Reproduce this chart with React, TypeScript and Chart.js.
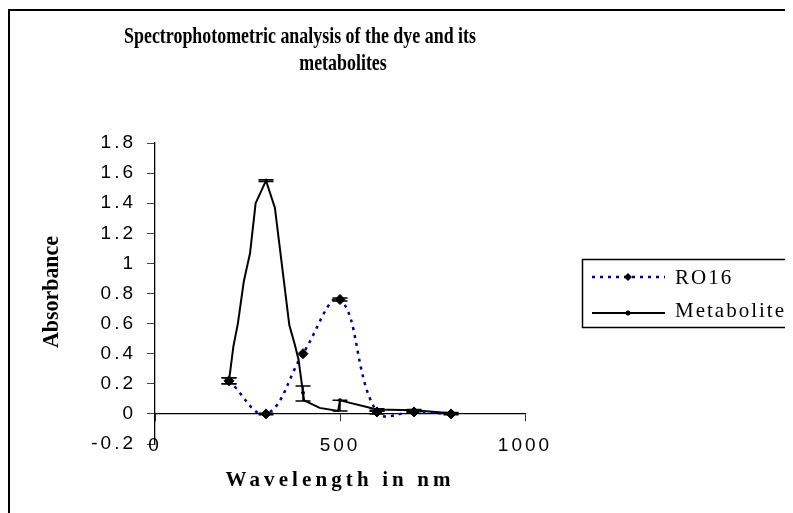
import { useEffect, useRef } from "react";
import { Chart, registerables } from "chart.js";

Chart.register(...registerables);

// ---------- data ----------
const chartTitle = ["Spectrophotometric analysis of the dye and its", "metabolites"];
const xAxisTitle = "Wavelength in nm";
const yAxisTitle = "Absorbance";

const xTickValues = [0, 500, 1000];
const yTickValues = [-0.2, 0, 0.2, 0.4, 0.6, 0.8, 1, 1.2, 1.4, 1.6, 1.8];

const ro16Label = "RO16";
const ro16X = [200, 300, 400, 500, 600, 700, 800];
const ro16Y = [0.22, 0.0, 0.4, 0.76, 0.013, 0.013, 0.0];
const ro16ErrX = [200, 300, 500, 600, 700, 800];
const ro16ErrLo = [0.2, -0.005, 0.75, 0.0, 0.005, -0.005];
const ro16ErrHi = [0.24, 0.005, 0.77, 0.02, 0.02, 0.005];

const metLabel = "Metabolite";
const metX = [200, 212, 224, 240, 257, 272, 300, 324, 363, 378, 388, 400, 403, 445, 495, 500, 600, 700, 800];
const metY = [0.22, 0.45, 0.6, 0.88, 1.07, 1.4, 1.55, 1.37, 0.59, 0.46, 0.36, 0.14, 0.09, 0.04, 0.02, 0.09, 0.03, 0.025, 0.005];
const metMarkerX = [200, 300, 400, 500, 600, 700, 800];
const metErrX = [200, 300, 400, 500, 600, 700, 800];
const metErrLo = [0.2, 1.545, 0.086, 0.02, 0.02, 0.02, 0.0];
const metErrHi = [0.24, 1.555, 0.186, 0.09, 0.035, 0.03, 0.01];

const W = 785;
const H = 505;

export default function App() {
  const ref = useRef<HTMLCanvasElement | null>(null);

  useEffect(() => {
    document.documentElement.style.overflow = "hidden";
    document.body.style.overflow = "hidden";
    const canvas = ref.current;
    if (!canvas) return;

    const errorSets = [
      { xs: ro16ErrX, lo: ro16ErrLo, hi: ro16ErrHi },
      { xs: metErrX, lo: metErrLo, hi: metErrHi },
    ];

    const decor = {
      id: "decor",
      beforeDraw(chart: any) {
        chart.ctx.letterSpacing = "3px";
      },
      afterDatasetsDraw(chart: any) {
        const ctx = chart.ctx as CanvasRenderingContext2D;
        const xs = chart.scales.x;
        const ys = chart.scales.y;
        ctx.save();
        ctx.strokeStyle = "#000";
        ctx.lineWidth = 1.5;
        ctx.setLineDash([]);
        const cap = 7.5;
        for (const s of errorSets) {
          for (let i = 0; i < s.xs.length; i++) {
            const px = xs.getPixelForValue(s.xs[i]);
            const pl = ys.getPixelForValue(s.lo[i]);
            const ph = ys.getPixelForValue(s.hi[i]);
            ctx.beginPath();
            ctx.moveTo(px, pl);
            ctx.lineTo(px, ph);
            ctx.moveTo(px - cap, pl);
            ctx.lineTo(px + cap, pl);
            ctx.moveTo(px - cap, ph);
            ctx.lineTo(px + cap, ph);
            ctx.stroke();
          }
        }
        ctx.restore();
      },
      afterDraw(chart: any) {
        const ctx = chart.ctx as CanvasRenderingContext2D;
        ctx.save();
        (ctx as any).letterSpacing = "0px";
        ctx.fillStyle = "#000";

        // outer border (left + top visible)
        ctx.strokeStyle = "#000";
        ctx.lineWidth = 2;
        ctx.beginPath();
        ctx.moveTo(1, H + 5);
        ctx.lineTo(1, 2);
        ctx.lineTo(W + 5, 2);
        ctx.stroke();

        // chart title
        ctx.font = 'bold 23px "Liberation Serif"';
        ctx.textAlign = "center";
        ctx.textBaseline = "alphabetic";
        const w1 = ctx.measureText(chartTitle[0]).width;
        const sx = 352 / w1;
        ctx.save();
        ctx.translate(292, 35);
        ctx.scale(sx, 1);
        ctx.fillText(chartTitle[0], 0, 0);
        ctx.restore();
        ctx.save();
        ctx.translate(335, 62);
        ctx.scale(sx, 1);
        ctx.fillText(chartTitle[1], 0, 0);
        ctx.restore();

        // y axis title
        ctx.font = 'bold 23px "Liberation Serif"';
        const wy = ctx.measureText(yAxisTitle).width;
        ctx.save();
        ctx.translate(44, 284);
        ctx.rotate(-Math.PI / 2);
        ctx.scale(112 / wy, 1);
        ctx.textBaseline = "middle";
        ctx.fillText(yAxisTitle, 0, 0);
        ctx.restore();

        // x axis title (spaced)
        ctx.font = 'bold 21px "Liberation Serif"';
        const wx = ctx.measureText(xAxisTitle).width;
        const n = xAxisTitle.length;
        const sp = (225 - wx) / (n - 1);
        (ctx as any).letterSpacing = sp + "px";
        ctx.textAlign = "left";
        ctx.textBaseline = "middle";
        ctx.fillText(xAxisTitle, 330 - 225 / 2, 473);
        (ctx as any).letterSpacing = "0px";

        // legend
        ctx.lineWidth = 1.5;
        ctx.strokeStyle = "#000";
        ctx.strokeRect(574.5, 251.5, 260, 68);
        const ds = chart.data.datasets;
        // RO16
        ctx.save();
        ctx.strokeStyle = ds[0].borderColor;
        ctx.lineWidth = 2.5;
        ctx.setLineDash(ds[0].borderDash);
        ctx.beginPath();
        ctx.moveTo(584, 269);
        ctx.lineTo(657, 269);
        ctx.stroke();
        ctx.restore();
        ctx.beginPath();
        ctx.moveTo(620, 265);
        ctx.lineTo(624, 269);
        ctx.lineTo(620, 273);
        ctx.lineTo(616, 269);
        ctx.closePath();
        ctx.fill();
        // Metabolite
        ctx.lineWidth = 1.8;
        ctx.beginPath();
        ctx.moveTo(584, 305);
        ctx.lineTo(657, 305);
        ctx.stroke();
        ctx.beginPath();
        ctx.arc(620, 305, 2.5, 0, Math.PI * 2);
        ctx.fill();
        ctx.font = '21px "Liberation Serif"';
        (ctx as any).letterSpacing = "2px";
        ctx.textAlign = "left";
        ctx.textBaseline = "alphabetic";
        ctx.fillText(ds[0].label, 667, 276);
        ctx.fillText(ds[1].label, 667, 309);
        ctx.restore();
      },
    };

    const tickFont = { family: "Liberation Sans", size: 19 };

    const chart = new Chart(canvas, {
      type: "scatter",
      data: {
        datasets: [
          {
            label: ro16Label,
            data: ro16X.map((x, i) => ({ x, y: ro16Y[i] })),
            showLine: true,
            borderColor: "#000080",
            borderWidth: 2.5,
            borderDash: [3, 5],
            tension: 0.4,
            pointStyle: "rectRot",
            pointRadius: 5,
            pointBackgroundColor: "#000",
            pointBorderColor: "#000",
            pointBorderWidth: 1,
          },
          {
            label: metLabel,
            data: metX.map((x, i) => ({ x, y: metY[i] })),
            showLine: true,
            borderColor: "#000",
            borderWidth: 2,
            tension: 0,
            pointStyle: "circle",
            pointRadius: metX.map((x) => (metMarkerX.includes(x) ? 2 : 0)),
            pointBackgroundColor: "#000",
            pointBorderColor: "#000",
            pointBorderWidth: 0,
          },
        ],
      } as any,
      options: {
        animation: false,
        responsive: false,
        devicePixelRatio: 1,
        layout: { padding: { left: 0, top: 135, right: 268, bottom: 0 } },
        plugins: {
          legend: { display: false },
          title: { display: false },
          tooltip: { enabled: false },
        },
        scales: {
          x: {
            type: "linear",
            position: "bottom",
            min: 0,
            max: 1000,
            afterBuildTicks: (s: any) => {
              s.ticks = xTickValues.map((v) => ({ value: v }));
            },
            afterFit: (s: any) => {
              s.height = 69;
            },
            border: { display: false },
            grid: { display: false, drawTicks: false },
            ticks: {
              font: tickFont,
              color: "#000",
              mirror: true,
              padding: -13,
              maxRotation: 0,
              autoSkip: false,
              callback: (v: any) => String(v),
            },
          },
          x0: {
            type: "linear",
            position: { y: 0 },
            min: 0,
            max: 1000,
            afterBuildTicks: (s: any) => {
              s.ticks = xTickValues.map((v) => ({ value: v }));
            },
            border: { display: true, color: "#000", width: 1.3 },
            grid: { drawOnChartArea: false, drawTicks: true, tickLength: 7, color: "#333" },
            ticks: { display: false },
          },
          y: {
            type: "linear",
            position: "left",
            min: -0.2,
            max: 1.8,
            afterBuildTicks: (s: any) => {
              s.ticks = yTickValues.map((v) => ({ value: v }));
            },
            afterFit: (s: any) => {
              s.width = 147;
            },
            border: { display: true, color: "#000", width: 1.3 },
            grid: { drawOnChartArea: false, drawTicks: true, tickLength: 8, color: "#444" },
            ticks: {
              font: tickFont,
              color: "#000",
              padding: 11,
              autoSkip: false,
              callback: (v: any) => String(Math.round(Number(v) * 10) / 10),
            },
          },
        } as any,
      },
      plugins: [decor],
    });

    return () => chart.destroy();
  }, []);

  return (
    <div style={{ width: W, height: H }}>
      <canvas ref={ref} width={W} height={H} style={{ display: "block", width: W, height: H }} />
    </div>
  );
}
